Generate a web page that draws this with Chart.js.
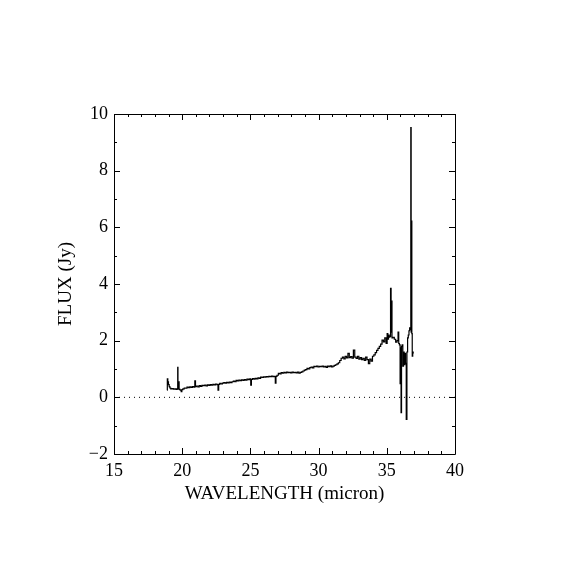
<!DOCTYPE html>
<html><head><meta charset="utf-8">
<script src="https://cdn.jsdelivr.net/npm/chart.js@4/dist/chart.umd.min.js"></script>
<style>html,body{margin:0;padding:0;background:#fff}</style>
</head><body>
<canvas id="c" width="570" height="570"></canvas>
<script>
// Wavelength (micron) and flux (Jy)
const wavelength = [
 18.90,18.92,18.97,19.02,19.07,19.12,19.20,19.30,19.40,19.50,
 19.60,19.66,19.68,19.70,19.75,19.80,19.90,19.95,20.00,20.10,
 20.20,20.30,20.40,20.50,20.60,20.70,20.80,20.90,20.95,21.00,
 21.10,21.20,21.30,21.40,21.50,21.60,21.70,21.80,21.90,22.00,
 22.10,22.20,22.30,22.40,22.50,22.60,22.65,22.70,22.80,22.90,
 23.00,23.10,23.20,23.30,23.40,23.50,23.60,23.70,23.80,23.90,
 24.00,24.10,24.20,24.30,24.40,24.50,24.60,24.70,24.80,24.90,
 25.00,25.05,25.10,25.20,25.30,25.40,25.50,25.60,25.70,25.80,
 25.90,26.00,26.10,26.20,26.30,26.40,26.50,26.60,26.70,26.80,
 26.85,26.90,27.00,27.10,27.20,27.30,27.40,27.50,27.60,27.70,
 27.80,27.90,28.00,28.10,28.20,28.30,28.40,28.50,28.60,28.70,
 28.80,28.90,29.00,29.10,29.20,29.30,29.40,29.50,29.60,29.70,
 29.80,29.90,30.00,30.10,30.20,30.30,30.40,30.50,30.60,30.70,
 30.80,30.90,31.00,31.10,31.20,31.30,31.40,31.50,31.60,31.70,
 31.80,31.90,32.00,32.10,32.20,32.30,32.40,32.50,32.60,32.70,
 32.80,32.90,33.00,33.10,33.20,33.30,33.40,33.50,33.60,33.70,
 33.80,33.90,34.00,34.10,34.20,34.30,34.40,34.50,34.60,34.70,
 34.80,34.90,35.00,35.05,35.10,35.15,35.20,35.25,35.30,35.33,
 35.36,35.40,35.50,35.60,35.70,35.80,35.85,35.90,35.95,36.00,
 36.03,36.06,36.10,36.15,36.20,36.25,36.30,36.35,36.40,36.45,
 36.50,36.55,36.60,36.65,36.70,36.75,36.77,36.80,36.82,36.85,
 36.88,36.92,36.95
];
const flux = [
 0.25,0.65,0.55,0.45,0.38,0.33,0.30,0.31,0.29,0.30,
 0.28,0.30,1.06,0.30,0.55,0.28,0.25,0.20,0.27,0.30,
 0.33,0.32,0.36,0.34,0.37,0.35,0.38,0.36,0.58,0.38,
 0.40,0.37,0.41,0.39,0.42,0.41,0.43,0.40,0.44,0.42,
 0.45,0.43,0.46,0.44,0.47,0.45,0.25,0.46,0.49,0.47,
 0.50,0.52,0.50,0.53,0.51,0.54,0.52,0.55,0.57,0.55,
 0.60,0.58,0.61,0.59,0.62,0.60,0.63,0.61,0.64,0.62,
 0.65,0.43,0.63,0.66,0.64,0.67,0.65,0.69,0.67,0.71,
 0.70,0.72,0.71,0.73,0.72,0.74,0.73,0.75,0.73,0.74,
 0.50,0.74,0.78,0.85,0.83,0.87,0.85,0.88,0.86,0.89,
 0.87,0.88,0.86,0.89,0.87,0.88,0.86,0.89,0.85,0.88,
 0.90,0.93,0.96,0.98,1.02,1.00,1.05,1.07,1.04,1.09,
 1.08,1.10,1.07,1.09,1.08,1.10,1.07,1.09,1.06,1.10,
 1.08,1.11,1.07,1.10,1.13,1.15,1.18,1.22,1.30,1.38,
 1.42,1.36,1.45,1.39,1.55,1.40,1.44,1.38,1.67,1.42,
 1.37,1.45,1.35,1.40,1.33,1.38,1.30,1.42,1.33,1.19,
 1.35,1.28,1.45,1.50,1.58,1.66,1.73,1.80,1.88,2.02,
 1.96,2.10,1.90,2.25,2.05,2.20,2.12,2.15,3.85,2.30,
 3.40,2.10,2.12,2.05,1.95,2.00,2.30,1.90,1.85,0.48,
 1.75,-0.54,1.80,1.85,1.10,1.60,1.15,1.55,1.20,-0.78,
 1.60,2.10,2.20,2.35,2.45,2.40,9.52,2.30,6.22,2.25,
 1.45,1.60,1.55
];
const zeroLine = [0, 0];
const xRange = [15, 40];
const yRange = [-2, 10];
const xMajorTicks = [15, 20, 25, 30, 35, 40];
const xMinorTicks = [16,17,18,19,21,22,23,24,26,27,28,29,31,32,33,34,36,37,38,39];
const yMajorTicks = [-2, 0, 2, 4, 6, 8, 10];
const yMinorTicks = [-1, 1, 3, 5, 7, 9];

const spectrum = wavelength.map((w, i) => ({x: w, y: flux[i]}));
const zeroData = xRange.map((w, i) => ({x: w, y: zeroLine[i]}));

const FONT = 'Liberation Serif';

const boxTicks = {
  id: 'boxTicks',
  afterDatasetsDraw(chart) {
    const {ctx, chartArea: a, scales: {x, y}} = chart;
    ctx.save();
    ctx.strokeStyle = '#000';
    ctx.lineWidth = 1;
    ctx.beginPath();
    ctx.rect(a.left + 0.5, a.top + 0.5, a.right - a.left, a.bottom - a.top);
    const MAJ = 6, MIN = 3;
    const xt = (v, len) => {
      const p = Math.round(x.getPixelForValue(v)) + 0.5;
      ctx.moveTo(p, a.bottom); ctx.lineTo(p, a.bottom - len);
      ctx.moveTo(p, a.top); ctx.lineTo(p, a.top + len);
    };
    const yt = (v, len) => {
      const p = Math.round(y.getPixelForValue(v)) + 0.5;
      ctx.moveTo(a.left, p); ctx.lineTo(a.left + len, p);
      ctx.moveTo(a.right, p); ctx.lineTo(a.right - len, p);
    };
    xMajorTicks.forEach(v => xt(v, MAJ));
    xMinorTicks.forEach(v => xt(v, MIN));
    yMajorTicks.forEach(v => yt(v, MAJ));
    yMinorTicks.forEach(v => yt(v, MIN));
    ctx.stroke();
    ctx.restore();
  }
};

new Chart(document.getElementById('c'), {
  type: 'scatter',
  data: {
    datasets: [
      {data: spectrum, showLine: true, stepped: 'middle', borderColor: '#000', borderWidth: 1.2,
       pointRadius: 0, tension: 0, fill: false},
      {data: zeroData, showLine: true, borderColor: '#000', borderWidth: 1,
       borderDash: [1, 4], pointRadius: 0, fill: false}
    ]
  },
  options: {
    responsive: false,
    animation: false,
    devicePixelRatio: 1,
    layout: {padding: {left: 0, top: 114, right: 115, bottom: 0}},
    plugins: {legend: {display: false}, tooltip: {enabled: false}},
    scales: {
      x: {
        type: 'linear', min: xRange[0], max: xRange[1],
        grid: {display: false, drawTicks: false},
        border: {display: false},
        ticks: {stepSize: 5, color: '#000', padding: 6, maxRotation: 0, autoSkip: false,
                font: {family: FONT, size: 18}},
        title: {display: true, text: 'WAVELENGTH (micron)', color: '#000',
                font: {family: FONT, size: 19}, padding: {top: 0, bottom: 65}},
        afterFit(s) { s.height = 116; }
      },
      y: {
        type: 'linear', min: yRange[0], max: yRange[1],
        grid: {display: false, drawTicks: false},
        border: {display: false},
        ticks: {stepSize: 2, color: '#000', padding: 6, autoSkip: false,
                font: {family: FONT, size: 18},
                callback: v => String(v).replace('-', '\u2212')},
        title: {display: true, text: 'FLUX (Jy)', color: '#000',
                font: {family: FONT, size: 19}, padding: {top: 55, bottom: 0}},
        afterFit(s) { s.width = 114; }
      }
    }
  },
  plugins: [boxTicks]
});
</script>
</body></html>
